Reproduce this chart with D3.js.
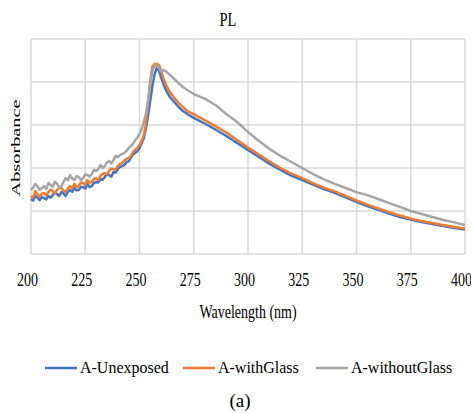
<!DOCTYPE html>
<html>
<head>
<meta charset="utf-8">
<script src="https://cdn.jsdelivr.net/npm/d3@7"></script>
<style>
  html, body { margin: 0; padding: 0; background: #fff; }
  svg { display: block; }
  text { font-family: "Liberation Serif", "Times New Roman", serif; fill: #000; }
</style>
</head>
<body>
<svg id="chart" width="471" height="413"></svg>
<script>
// ---- data ----
const wavelengths = [
  200,201,202,203,204,205,206,207,208,209,210,211,212,213,214,215,216,217,218,219,
  220,221,222,223,224,225,226,227,228,229,230,231,232,233,234,235,236,237,238,239,
  240,241,242,243,244,245,246,247,248,249,
  250,251,252,253,254,255,256,257,258,259,260,261,262,
  264,266,268,270,272,
  275,280,285,290,295,300,305,310,315,320,325,330,335,340,345,350,355,360,365,370,375,380,385,390,395,400
];
const unexposed = [
  0.256,0.249,0.270,0.262,0.251,0.265,0.260,0.254,0.270,0.262,0.274,0.286,0.279,0.270,0.288,0.281,0.270,0.290,0.298,0.289,
  0.307,0.296,0.298,0.312,0.312,0.304,0.326,0.311,0.316,0.330,0.335,0.333,0.349,0.345,0.358,0.372,0.367,0.360,0.381,0.379,
  0.395,0.405,0.409,0.414,0.428,0.431,0.447,0.463,0.470,0.478,
  0.493,0.516,0.540,0.586,0.647,0.716,0.786,0.837,0.865,0.851,0.819,0.791,0.767,
  0.730,0.707,0.684,0.665,0.651,
  0.633,0.607,0.579,0.549,0.516,0.484,0.451,0.419,0.391,0.365,0.344,0.323,0.302,0.284,0.263,0.242,0.223,0.205,0.188,0.172,0.160,0.149,0.140,0.130,0.121,0.114
];
const withGlass = [
  0.270,0.262,0.293,0.279,0.265,0.281,0.284,0.272,0.288,0.300,0.293,0.281,0.298,0.307,0.307,0.295,0.288,0.305,0.316,0.307,
  0.326,0.312,0.316,0.333,0.330,0.321,0.344,0.332,0.335,0.349,0.353,0.344,0.363,0.372,0.377,0.370,0.386,0.398,0.395,0.393,
  0.409,0.419,0.423,0.435,0.442,0.447,0.456,0.474,0.484,0.493,
  0.507,0.526,0.553,0.609,0.716,0.809,0.874,0.884,0.884,0.879,0.851,0.819,0.791,
  0.753,0.726,0.702,0.684,0.665,
  0.651,0.623,0.595,0.565,0.530,0.495,0.463,0.430,0.400,0.374,0.353,0.330,0.309,0.291,0.270,0.249,0.230,0.212,0.195,0.179,0.165,0.153,0.144,0.135,0.126,0.119
];
const withoutGlass = [
  0.298,0.309,0.326,0.314,0.298,0.307,0.316,0.302,0.330,0.321,0.312,0.337,0.326,0.309,0.316,0.335,0.353,0.342,0.367,0.351,
  0.344,0.362,0.358,0.344,0.353,0.370,0.367,0.360,0.372,0.391,0.386,0.395,0.414,0.400,0.409,0.426,0.433,0.421,0.437,0.456,
  0.451,0.460,0.465,0.470,0.479,0.493,0.502,0.512,0.530,0.542,
  0.558,0.581,0.614,0.656,0.716,0.791,0.851,0.874,0.879,0.865,0.847,0.856,0.851,
  0.833,0.814,0.795,0.777,0.763,
  0.744,0.723,0.693,0.651,0.614,0.567,0.526,0.488,0.456,0.428,0.400,0.372,0.347,0.326,0.307,0.288,0.274,0.256,0.237,0.219,0.200,0.186,0.172,0.158,0.147,0.135
];
const seriesNames = ["A-Unexposed", "A-withGlass", "A-withoutGlass"];
const seriesColors = ["#4472C4", "#ED7D31", "#A5A5A5"];
const xTicks = [200,225,250,275,300,325,350,375,400];
const yGridTicks = [0, 0.2, 0.4, 0.6, 0.8, 1.0];
const titleText = "PL";
const xTitle = "Wavelength (nm)";
const yTitle = "Absorbance";
const caption = "(a)";

// ---- layout ----
const svg = d3.select("#chart");
const plot = { left: 31, right: 465, top: 39, bottom: 254 };
const x = d3.scaleLinear().domain([200, 400]).range([plot.left, plot.right]);
const y = d3.scaleLinear().domain([0, 1]).range([plot.bottom, plot.top]);

const gridColor = "#d9d9d9";

// horizontal gridlines
svg.append("g").selectAll("line").data(yGridTicks).join("line")
  .attr("x1", plot.left).attr("x2", plot.right)
  .attr("y1", d => y(d)).attr("y2", d => y(d))
  .attr("stroke", gridColor).attr("stroke-width", 1.5);

// vertical gridlines
svg.append("g").selectAll("line").data(xTicks).join("line")
  .attr("x1", d => x(d)).attr("x2", d => x(d))
  .attr("y1", plot.top).attr("y2", plot.bottom)
  .attr("stroke", gridColor).attr("stroke-width", 1.5);

// x axis labels
const xAxis = svg.append("g").attr("transform", `translate(0,${plot.bottom})`)
  .call(d3.axisBottom(x).tickValues(xTicks).tickSize(0).tickFormat(d3.format("d")));
xAxis.select(".domain").remove();
xAxis.selectAll("text")
  .attr("y", 0).attr("dy", 0)
  .attr("transform", "translate(-4,32) scale(1,1.35)")
  .style("font-size", "14px")
  .style("font-family", "'Liberation Serif', serif")
  .attr("fill", "#000");

// lines
const series = [unexposed, withGlass, withoutGlass];
const line = d3.line().x((d, i) => x(wavelengths[i])).y(d => y(d));
series.forEach((s, k) => {
  svg.append("path").datum(s)
    .attr("fill", "none")
    .attr("stroke", seriesColors[k])
    .attr("stroke-width", 2.5)
    .attr("stroke-linejoin", "round")
    .attr("d", line);
});

// title
svg.append("text")
  .attr("transform", "translate(228,26) scale(1,1.35)")
  .attr("text-anchor", "middle")
  .style("font-size", "14.5px")
  .text(titleText);

// x title
svg.append("text")
  .attr("transform", "translate(248,318) scale(1,1.35)")
  .attr("text-anchor", "middle")
  .style("font-size", "14px")
  .text(xTitle);

// y title
svg.append("text")
  .attr("transform", "translate(20,148) rotate(-90)")
  .attr("text-anchor", "middle")
  .attr("textLength", 97)
  .attr("lengthAdjust", "spacingAndGlyphs")
  .style("font-size", "13.5px")
  .text(yTitle);

// legend
const legendX = [45, 183, 316];
const legendY = 368;
seriesNames.forEach((name, k) => {
  const g = svg.append("g").attr("transform", `translate(${legendX[k]},${legendY})`);
  g.append("line").attr("x1", 0).attr("x2", 32).attr("y1", 0).attr("y2", 0)
    .attr("stroke", seriesColors[k]).attr("stroke-width", 2.5);
  g.append("text")
    .attr("transform", "translate(35,4.5) scale(1,1.1)")
    .style("font-size", "16px")
    .text(name);
});

// caption
svg.append("text")
  .attr("x", 240).attr("y", 407)
  .attr("text-anchor", "middle")
  .style("font-size", "19px")
  .text(caption);
</script>
</body>
</html>
